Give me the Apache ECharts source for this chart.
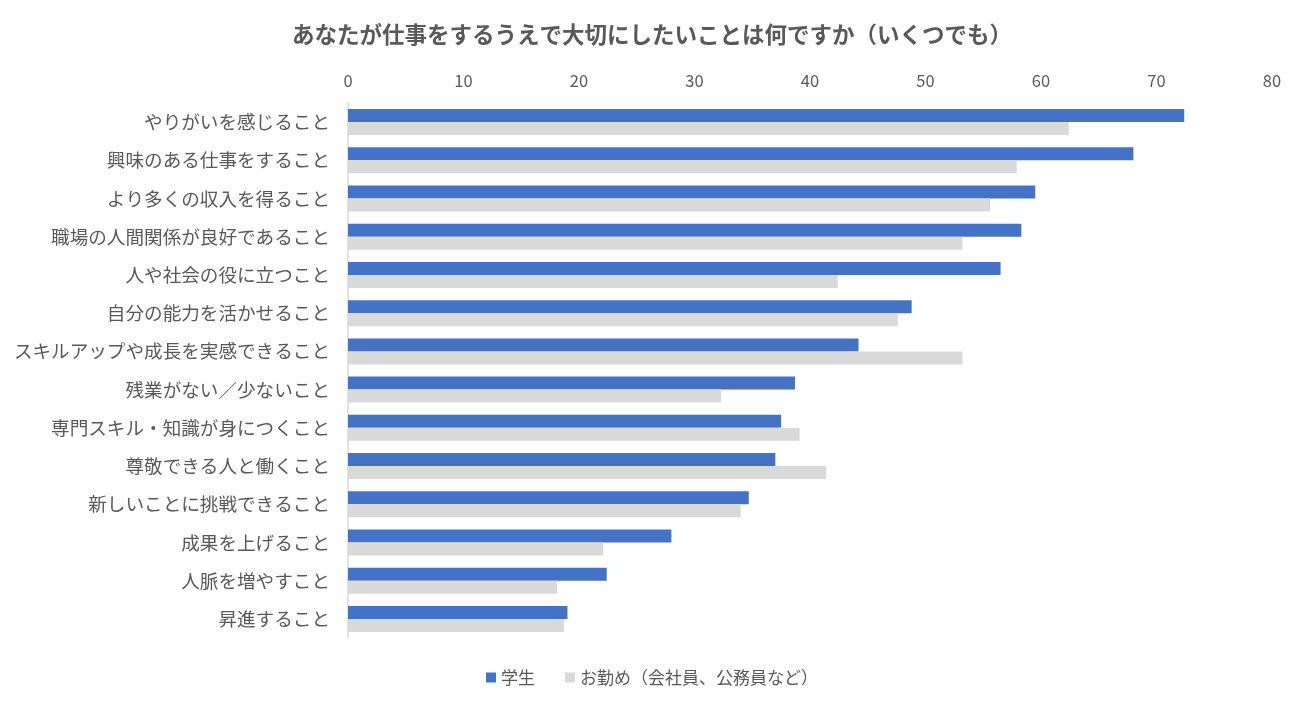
<!DOCTYPE html>
<html>
<head>
<meta charset="utf-8">
<script src="https://cdn.jsdelivr.net/npm/echarts@6/dist/echarts.min.js"></script>
<style>
  html, body { margin: 0; padding: 0; background: #fff; }
  #main { width: 1304px; height: 709px; }
</style>
</head>
<body>
<div id="main"></div>
<script>
// 項目（上から順）
var categories = [
    'やりがいを感じること',
    '興味のある仕事をすること',
    'より多くの収入を得ること',
    '職場の人間関係が良好であること',
    '人や社会の役に立つこと',
    '自分の能力を活かせること',
    'スキルアップや成長を実感できること',
    '残業がない／少ないこと',
    '専門スキル・知識が身につくこと',
    '尊敬できる人と働くこと',
    '新しいことに挑戦できること',
    '成果を上げること',
    '人脈を増やすこと',
    '昇進すること'
];
var studentValues = [72.4, 68.0, 59.5, 58.3, 56.5, 48.8, 44.2, 38.7, 37.5, 37.0, 34.7, 28.0, 22.4, 19.0];
var workerValues  = [62.4, 57.9, 55.6, 53.2, 42.4, 47.6, 53.2, 32.3, 39.1, 41.4, 34.0, 22.1, 18.1, 18.7];
var seriesNames = ['学生', 'お勤め（会社員、公務員など）'];

var fontJP = '"Noto Sans CJK JP", "Noto Sans", sans-serif';
var textColor = '#595959';

var myChart = echarts.init(document.getElementById('main'));
var option = {
    textStyle: { fontFamily: fontJP },
    title: {
        text: 'あなたが仕事をするうえで大切にしたいことは何ですか（いくつでも）',
        left: 'center',
        top: 18,
        textStyle: { fontFamily: fontJP, fontSize: 22.5, fontWeight: 'bold', color: textColor }
    },
    legend: {
        data: seriesNames,
        bottom: 18,
        left: 'center',
        itemWidth: 10,
        itemHeight: 10,
        itemGap: 30,
        icon: 'rect',
        textStyle: { fontFamily: fontJP, fontSize: 17, color: textColor }
    },
    grid: {
        left: 348,
        right: 32,
        top: 103,
        bottom: 71,
        containLabel: false
    },
    xAxis: {
        type: 'value',
        position: 'top',
        min: 0,
        max: 80,
        interval: 10,
        axisLine: { show: false },
        axisTick: { show: false },
        splitLine: { show: false },
        axisLabel: { color: textColor, fontSize: 16.5, fontFamily: fontJP, margin: 14 }
    },
    yAxis: {
        type: 'category',
        inverse: true,
        data: categories,
        axisLine: { show: true, lineStyle: { color: '#D9D9D9', width: 1.5 } },
        axisTick: { show: false },
        axisLabel: { color: textColor, fontSize: 18.6, fontFamily: fontJP, margin: 18 }
    },
    series: [
        {
            name: seriesNames[0],
            type: 'bar',
            data: studentValues,
            barGap: '0%',
            barCategoryGap: '32%',
            itemStyle: { color: '#4472C4' }
        },
        {
            name: seriesNames[1],
            type: 'bar',
            data: workerValues,
            barGap: '0%',
            barCategoryGap: '32%',
            itemStyle: { color: '#D9D9D9' }
        }
    ]
};
myChart.setOption(option);
</script>
</body>
</html>
